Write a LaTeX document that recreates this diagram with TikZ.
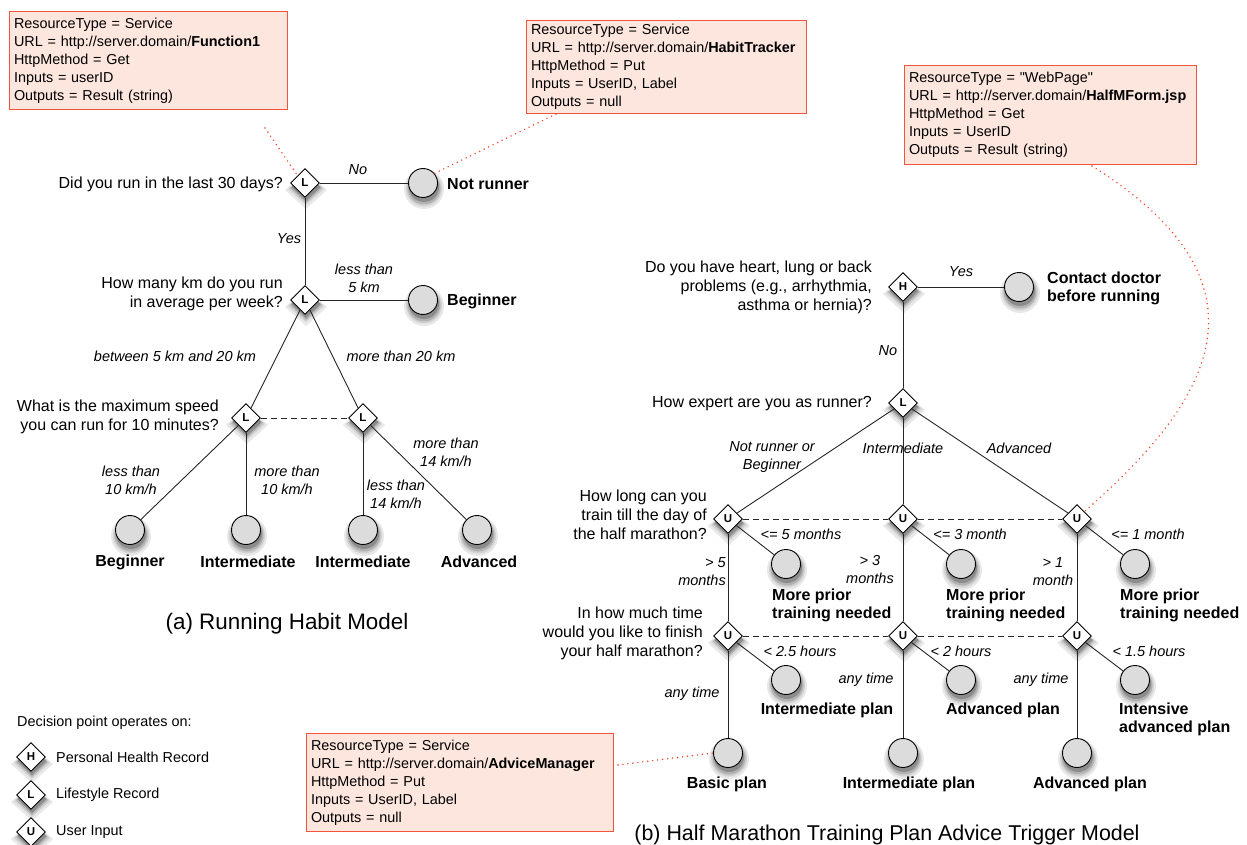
\documentclass[tikz,border=0pt]{standalone}
\usepackage{fontspec}
\setmainfont{Liberation Sans}
% same face without the TeX quote mapping, for straight double quotes
\newfontfamily\plainsans{Liberation Sans}
\usetikzlibrary{shapes.geometric}

\definecolor{boxfill}{HTML}{FDE6DD}
\definecolor{boxline}{HTML}{F0553A}
\definecolor{linkred}{HTML}{F2401F}
\definecolor{leafgray}{HTML}{DCDCDC}
\definecolor{edgegray}{HTML}{262626}
% shadow tones, outermost to innermost
\definecolor{shadeA}{RGB}{232,232,232}
\definecolor{shadeB}{RGB}{210,210,210}
\definecolor{shadeC}{RGB}{178,178,178}
\definecolor{shadeD}{RGB}{140,140,140}

\newcommand\fsz[2]{\fontsize{#1}{#2}\selectfont}
\newcommand\sq{{\plainsans\symbol{34}}}

\tikzset{
  decision/.style={diamond, draw=black, line width=0.9pt, fill=white, aspect=1,
      minimum width=29pt, minimum height=29pt, inner sep=0pt,
      font=\bfseries\fsz{11.5}{12}},
  leaf/.style={circle, draw=black, line width=0.9pt, fill=leafgray,
      minimum size=29pt, inner sep=0pt},
  question/.style={anchor=east, align=right, inner sep=0pt, font=\fsz{16}{19}},
  elabel/.style={align=center, inner sep=0pt, font=\itshape\fsz{14.5}{18}},
  leaflabel/.style={align=left, inner sep=0pt, font=\bfseries\fsz{16}{18}},
  edge/.style={draw=edgegray, line width=0.9pt},
  sibling/.style={draw=edgegray, line width=0.9pt, dash pattern=on 6pt off 4pt},
  resbox/.style={draw=boxline, line width=1pt, fill=boxfill, anchor=north west,
      align=left, inner xsep=4.5pt, inner ysep=0pt, font=\fsz{14.4}{18}},
  reslink/.style={draw=linkred, line width=1.6pt, line cap=round,
      dash pattern=on 0pt off 5pt},
  legendtext/.style={anchor=west, inner sep=0pt, font=\fsz{14.4}{18}},
  caption/.style={inner sep=0pt, font=\fsz{22.4}{26}},
}

\begin{document}
\begin{tikzpicture}[x=1pt, y=-1pt]
\useasboundingbox (0,0) rectangle (1247,845);

% ---------------- soft shadows below the shapes ----------------
% each shape leaves four graded discs / diamonds, shifted downwards
\foreach \px/\py in {305/183,305/300,246/418,363/418,903/287,903/403,728/519,903/519,1077/519,728/636,903/636,1077/636,31/757,31/795,31/832}{
  \fill[shadeA] (\px+1,\py-12) -- (\px+22,\py+7) -- (\px+1,\py+26) -- (\px-20,\py+7) -- cycle;
  \fill[shadeB] (\px+1,\py-10) -- (\px+19,\py+6) -- (\px+1,\py+22) -- (\px-17,\py+6) -- cycle;
  \fill[shadeC] (\px+1,\py-9) -- (\px+17,\py+5) -- (\px+1,\py+20) -- (\px-15,\py+5) -- cycle;
  \fill[shadeD] (\px+1,\py-10) -- (\px+15.5,\py+4) -- (\px+1,\py+18) -- (\px-13.5,\py+4) -- cycle;
}
\foreach \px/\py in {423/183,423/300,130/530,246/530,363/530,477/530,1019/287,786/564,961/564,1135/564,786/680,961/680,1135/680,728/753,903/753,1077/753}{
  \fill[shadeA] (\px+1,\py+6) circle[radius=20pt];
  \fill[shadeB] (\px+1,\py+5.5) circle[radius=18pt];
  \fill[shadeC] (\px+1,\py+5) circle[radius=16.5pt];
  \fill[shadeD] (\px+1,\py+4) circle[radius=15pt];
}

% ---------------- (a) Running habit model ----------------
\node[decision] (d1) at (305,183) {L};
\node[leaf] (n1) at (423,183) {};
\node[leaflabel, anchor=west] (n1t) at (447,184) {Not runner};
\node[question] (q1) at (283,184) {Did you run in the last 30 days?};

\node[decision] (d2) at (305,300) {L};
\node[leaf] (n2) at (423,300) {};
\node[leaflabel, anchor=west] (n2t) at (447,301) {Beginner};
\node[question] (q2) at (283,294) {How many km do you run\\in average per week?};

\node[decision] (d3) at (246,418) {L};
\node[decision] (d4) at (363,418) {L};
\node[question] (q3) at (219,417) {What is the maximum speed\\you can run for 10 minutes?};

\node[leaf] (l1) at (130,530) {};
\node[leaf] (l2) at (246,530) {};
\node[leaf] (l3) at (363,530) {};
\node[leaf] (l4) at (477,530) {};
\node[leaflabel] (l1t) at (130,562) {Beginner};
\node[leaflabel] (l2t) at (248,562) {Intermediate};
\node[leaflabel] (l3t) at (363,562) {Intermediate};
\node[leaflabel] (l4t) at (479,562) {Advanced};

\draw[edge] (d1) -- (n1);
\draw[edge] (d1) -- (d2);
\draw[edge] (d2) -- (n2);
\draw[edge] (d2) -- (d3);
\draw[edge] (d2) -- (d4);
\draw[sibling] (d3) -- (d4);
\draw[edge] (d3) -- (l1);
\draw[edge] (d3) -- (l2);
\draw[edge] (d4) -- (l3);
\draw[edge] (d4) -- (l4);

\node[elabel] (e1) at (358,170) {No};
\node[elabel] (e2) at (289,239) {Yes};
\node[elabel] (e3) at (364,278) {less than\\5 km};
\node[elabel] (e4) at (175,356) {between 5 km and 20 km};
\node[elabel] (e5) at (401,356) {more than 20 km};
\node[elabel] (e6) at (131,480) {less than\\10 km/h};
\node[elabel] (e7) at (287,480) {more than\\10 km/h};
\node[elabel] (e8) at (396,494) {less than\\14 km/h};
\node[elabel] (e9) at (446,452) {more than\\14 km/h};

\node[caption] (capa) at (287,624) {(a) Running Habit Model};

% ---------------- (b) Half marathon training plan ----------------
\node[decision] (h1) at (903,287) {H};
\node[leaf] (cd) at (1019,287) {};
\node[leaflabel, anchor=west] (cdt) at (1047,288) {Contact doctor\\before running};
\node[question] (qh) at (872,287) {Do you have heart, lung or back\\problems (e.g., arrhythmia,\\asthma or hernia)?};

\node[decision] (lx) at (903,403) {L};
\node[question] (qx) at (872,404) {How expert are you as runner?};

\node[decision] (u1) at (728,519) {U};
\node[decision] (u2) at (903,519) {U};
\node[decision] (u3) at (1077,519) {U};
\node[question] (qu) at (707,515) {How long can you\\train till the day of\\the half marathon?};

\node[leaf] (m1) at (786,564) {};
\node[leaf] (m2) at (961,564) {};
\node[leaf] (m3) at (1135,564) {};
\node[leaflabel, anchor=west] (m1t) at (772,605) {More prior\\training needed};
\node[leaflabel, anchor=west] (m2t) at (946,605) {More prior\\training needed};
\node[leaflabel, anchor=west] (m3t) at (1120,605) {More prior\\training needed};

\node[decision] (v1) at (728,636) {U};
\node[decision] (v2) at (903,636) {U};
\node[decision] (v3) at (1077,636) {U};
\node[question] (qv) at (703,633) {In how much time\\would you like to finish\\your half marathon?};

\node[leaf] (p1) at (786,680) {};
\node[leaf] (p2) at (961,680) {};
\node[leaf] (p3) at (1135,680) {};
\node[leaflabel] (p1t) at (827,710) {Intermediate plan};
\node[leaflabel] (p2t) at (1003,710) {Advanced plan};
\node[leaflabel, anchor=west] (p3t) at (1119,719) {Intensive\\advanced plan};

\node[leaf] (b1) at (728,753) {};
\node[leaf] (b2) at (903,753) {};
\node[leaf] (b3) at (1077,753) {};
\node[leaflabel] (b1t) at (727,784) {Basic plan};
\node[leaflabel] (b2t) at (909,784) {Intermediate plan};
\node[leaflabel] (b3t) at (1090,784) {Advanced plan};

\draw[edge] (h1) -- (cd);
\draw[edge] (h1) -- (lx);
\draw[edge] (lx) -- (u1);
\draw[edge] (lx) -- (u2);
\draw[edge] (lx) -- (u3);
\draw[sibling] (u1) -- (u2);
\draw[sibling] (u2) -- (u3);
\draw[edge] (u1) -- (m1);
\draw[edge] (u2) -- (m2);
\draw[edge] (u3) -- (m3);
\draw[edge] (u1) -- (v1);
\draw[edge] (u2) -- (v2);
\draw[edge] (u3) -- (v3);
\draw[sibling] (v1) -- (v2);
\draw[sibling] (v2) -- (v3);
\draw[edge] (v1) -- (p1);
\draw[edge] (v2) -- (p2);
\draw[edge] (v3) -- (p3);
\draw[edge] (v1) -- (b1);
\draw[edge] (v2) -- (b2);
\draw[edge] (v3) -- (b3);

\node[elabel] (f1) at (961,272) {Yes};
\node[elabel] (f2) at (888,351) {No};
\node[elabel] (f3) at (772,457) {Not runner or\\Beginner};
\node[elabel] (f4) at (903,448) {Intermediate};
\node[elabel] (f5) at (1019,448) {Advanced};
\node[elabel] (f6) at (801,534) {<= 5 months};
\node[elabel] (f7) at (970,534) {<= 3 month};
\node[elabel] (f8) at (1148,534) {<= 1 month};
\node[elabel, anchor=east, align=right] (f9) at (726,572) {> 5\\months};
\node[elabel] (f10) at (870,570) {> 3\\months};
\node[elabel] (f11) at (1053,572) {> 1\\month};
\node[elabel] (f12) at (800,651) {< 2.5 hours};
\node[elabel] (f13) at (961,651) {< 2 hours};
\node[elabel] (f14) at (1149,651) {< 1.5 hours};
\node[elabel] (f15) at (692,694) {any time};
\node[elabel] (f16) at (866,680) {any time};
\node[elabel] (f17) at (1041,680) {any time};

\node[caption, font=\fsz{21.4}{26}] (capb) at (887,835) {(b) Half Marathon Training Plan Advice Trigger Model};

% ---------------- resource annotations ----------------
\node[resbox, text width=269pt, minimum height=98pt] (r1) at (9,11)
  {ResourceType = Service\\URL = http://server.domain/\textbf{Function1}\\HttpMethod = Get\\Inputs = userID\\Outputs = Result (string)};
\node[resbox, text width=271pt, minimum height=93pt] (r2) at (526,20)
  {ResourceType = Service\\URL = http://server.domain/\textbf{HabitTracker}\\HttpMethod = Put\\Inputs = UserID, Label\\Outputs = null};
\node[resbox, text width=283pt, minimum height=99pt] (r3) at (904,65)
  {ResourceType = \sq WebPage\sq\\URL = http://server.domain/\textbf{HalfMForm.jsp}\\HttpMethod = Get\\Inputs = UserID\\Outputs = Result (string)};
\node[resbox, text width=298pt, minimum height=98pt] (r4) at (306,733)
  {ResourceType = Service\\URL = http://server.domain/\textbf{AdviceManager}\\HttpMethod = Put\\Inputs = UserID, Label\\Outputs = null};

\coordinate (k1) at (265,128);
\coordinate (k2) at (556,114);
\coordinate (k3) at (1092,166);
\coordinate (k4) at (618,765);
\draw[reslink] (k1) -- (d1.north west);
\draw[reslink] (k2) -- (n1.40);
\draw[reslink] (k3) .. controls (1290,290) and (1200,410) .. (u3.north east);
\draw[reslink] (k4) -- (b1.west);

% ---------------- legend ----------------
\node[legendtext] (lg0) at (17,723) {Decision point operates on:};
\node[decision] (lgh) at (31,757) {H};
\node[legendtext] (lght) at (56,757) {Personal Health Record};
\node[decision] (lgl) at (31,795) {L};
\node[legendtext] (lglt) at (56,795) {Lifestyle Record};
\node[decision] (lgu) at (31,832) {U};
\node[legendtext] (lgut) at (56,832) {User Input};

\end{tikzpicture}
\end{document}
